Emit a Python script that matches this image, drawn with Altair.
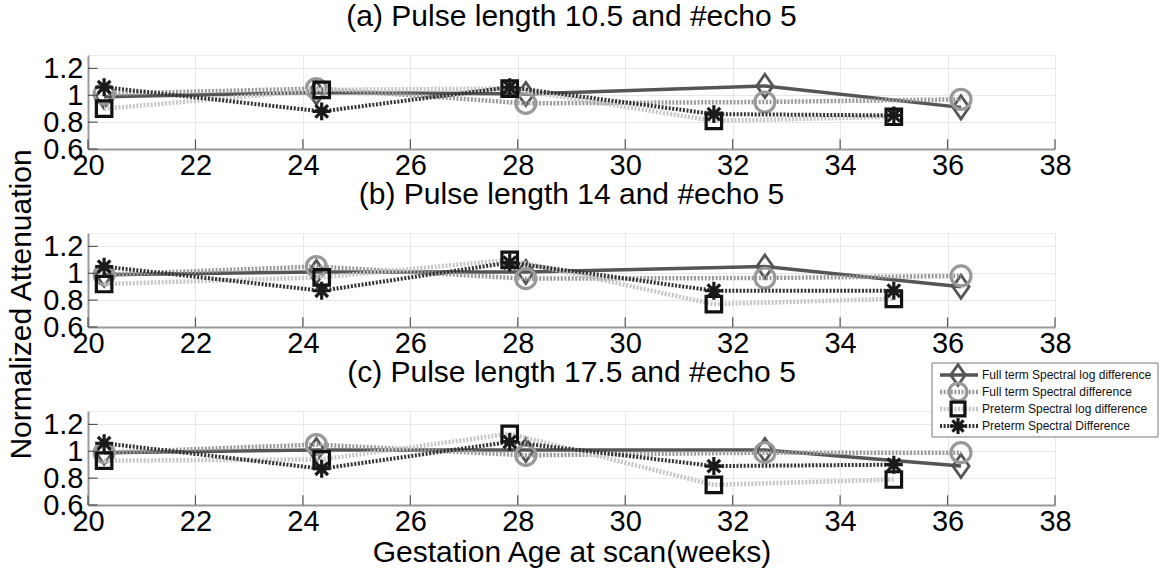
import altair as alt
import pandas as pd

# Gestation age (weeks) at which each cohort was scanned
weeks_full = [20.3, 24.25, 28.15, 32.6, 36.25]
weeks_pre = [20.3, 24.35, 27.85, 31.65, 35.0]

series_names = [
    "Full term Spectral log difference",
    "Full term Spectral difference",
    "Preterm Spectral log difference",
    "Preterm Spectral Difference",
]

# (a) Pulse length 10.5
ft_log_a = [0.99, 1.02, 1.01, 1.07, 0.91]
ft_diff_a = [1.01, 1.05, 0.94, 0.95, 0.97]
pt_log_a = [0.90, 1.04, 1.05, 0.81, 0.84]
pt_diff_a = [1.06, 0.88, 1.06, 0.86, 0.85]

# (b) Pulse length 14
ft_log_b = [0.99, 1.01, 1.01, 1.05, 0.90]
ft_diff_b = [0.99, 1.05, 0.96, 0.965, 0.98]
pt_log_b = [0.92, 0.97, 1.10, 0.77, 0.81]
pt_diff_b = [1.05, 0.87, 1.08, 0.87, 0.87]

# (c) Pulse length 17.5
ft_log_c = [0.99, 1.01, 1.01, 1.01, 0.89]
ft_diff_c = [0.99, 1.05, 0.97, 0.99, 0.99]
pt_log_c = [0.93, 0.94, 1.13, 0.75, 0.79]
pt_diff_c = [1.06, 0.87, 1.07, 0.89, 0.90]

panel_titles = [
    "(a) Pulse length 10.5 and #echo 5",
    "(b) Pulse length 14 and #echo 5",
    "(c) Pulse length 17.5 and #echo 5",
]
panel_values = [
    [ft_log_a, ft_diff_a, pt_log_a, pt_diff_a],
    [ft_log_b, ft_diff_b, pt_log_b, pt_diff_b],
    [ft_log_c, ft_diff_c, pt_log_c, pt_diff_c],
]

x_ticks = list(range(20, 39, 2))
y_ticks = [0.6, 0.8, 1.0, 1.2]

FONT = "Liberation Sans"
W, H = 967, 94
TICK_FS = 29
TITLE_FS = 30

DIAMOND = "M0,-1L0.7,0L0,1L-0.7,0Z"
ASTERISK = "M0,-1L0,1M-1,0L1,0M-0.7,-0.7L0.7,0.7M-0.7,0.7L0.7,-0.7"

styles = {
    series_names[0]: dict(line="#555555", dash=None, lw=3.5, shape=DIAMOND,
                          size=540, mark="#555555", msw=2.8),
    series_names[1]: dict(line="#9a9a9a", dash=[2, 1.6], lw=4.5, shape="circle",
                          size=400, mark="#999999", msw=3.2),
    series_names[2]: dict(line="#c6c6c6", dash=[2, 1.6], lw=4.5, shape="square",
                          size=240, mark="#111111", msw=3.2),
    series_names[3]: dict(line="#333333", dash=[2, 1.6], lw=4, shape=ASTERISK,
                          size=320, mark="#1a1a1a", msw=3.2),
}


def line_kwargs(st):
    kw = dict(color=st["line"], strokeWidth=st["lw"], strokeCap="butt")
    if st["dash"] is not None:
        kw["strokeDash"] = st["dash"]
    return kw


def point_kwargs(st):
    return dict(shape=st["shape"], size=st["size"], filled=False,
                color=st["mark"], strokeWidth=st["msw"], opacity=1)


def build_panel(idx):
    values = panel_values[idx]
    x_kw = dict(values=x_ticks, labelPadding=2, labelOverlap=False,
                labelFlush=False)
    if idx == 2:
        x_kw.update(title="Gestation Age at scan(weeks)", titlePadding=1)
    else:
        x_kw.update(title=None)
    y_kw = dict(values=y_ticks, format=".1~f", labelPadding=5,
                labelOverlap=False, labelFlush=False)
    if idx == 1:
        y_kw.update(title="Normalized Attenuation", titleY=71, titlePadding=6)
    else:
        y_kw.update(title=None)
    x_axis = alt.Axis(**x_kw)
    y_axis = alt.Axis(**y_kw)
    x_scale = alt.Scale(domain=[20, 38], nice=False)
    y_scale = alt.Scale(domain=[0.6, 1.3], nice=False)

    layers = []
    for k, name in enumerate(series_names):
        weeks = weeks_full if k < 2 else weeks_pre
        df = pd.DataFrame({"week": weeks, "value": values[k], "series": name})
        st = styles[name]
        enc = dict(
            x=alt.X("week:Q", scale=x_scale, axis=x_axis),
            y=alt.Y("value:Q", scale=y_scale, axis=y_axis),
        )
        layers.append(alt.Chart(df).mark_line(**line_kwargs(st)).encode(**enc))
        layers.append(alt.Chart(df).mark_point(**point_kwargs(st)).encode(**enc))

    # inward tick marks, MATLAB style (sharing the panel's axes)
    xt = pd.DataFrame({"t": x_ticks})
    layers.append(
        alt.Chart(xt).mark_rule(color="#555555", strokeWidth=1.2).encode(
            x=alt.X("t:Q", scale=x_scale, axis=x_axis),
            y=alt.YDatum(0.6, scale=y_scale, axis=y_axis),
            y2=alt.datum(0.672),
        )
    )
    yt = pd.DataFrame({"t": y_ticks})
    layers.append(
        alt.Chart(yt).mark_rule(color="#555555", strokeWidth=1.2).encode(
            y=alt.Y("t:Q", scale=y_scale, axis=y_axis),
            x=alt.XDatum(20, scale=x_scale, axis=x_axis),
            x2=alt.datum(20.18),
        )
    )

    # panel heading
    layers.append(
        alt.Chart(pd.DataFrame({"title": [panel_titles[idx]]})).mark_text(
            align="center", baseline="middle", font=FONT,
            fontSize=TITLE_FS, color="black",
        ).encode(x=alt.value(W / 2), y=alt.value(-38), text="title:N")
    )

    if idx == 2:
        # legend box, drawn in the upper-right corner of the last panel
        layers.append(
            alt.Chart(pd.DataFrame({"k": [0]})).mark_rect(
                fill="white", stroke="#777777", strokeWidth=1
            ).encode(
                x=alt.value(844), x2=alt.value(1070),
                y=alt.value(-48), y2=alt.value(26),
            )
        )
        for k, name in enumerate(series_names):
            st = styles[name]
            row_y = -36 + 17 * k
            one = pd.DataFrame({"label": [name]})
            layers.append(
                alt.Chart(one).mark_rule(**line_kwargs(st)).encode(
                    x=alt.value(852), x2=alt.value(890), y=alt.value(row_y)
                )
            )
            pk = point_kwargs(st)
            pk["size"] = st["size"] * 0.8
            layers.append(
                alt.Chart(one).mark_point(**pk).encode(
                    x=alt.value(870), y=alt.value(row_y)
                )
            )
            layers.append(
                alt.Chart(one).mark_text(
                    align="left", baseline="middle", font=FONT,
                    fontSize=12, color="#111111",
                ).encode(x=alt.value(894), y=alt.value(row_y), text="label:N")
            )

    return alt.layer(*layers).properties(width=W, height=H)


chart = (
    alt.vconcat(build_panel(0), build_panel(1), build_panel(2),
                spacing=84, bounds="flush")
    .properties(padding={"left": 6, "top": 1, "right": 0, "bottom": 0})
    .configure_view(stroke="#ececec", strokeWidth=1)
    .configure_axis(
        domainColor="#9a9a9a",
        domainWidth=2,
        gridColor="#e8e8e8",
        gridWidth=1,
        ticks=False,
        labelFont=FONT,
        labelFontSize=TICK_FS,
        labelColor="black",
        labelOverlap=False,
        labelFlush=False,
        titleFont=FONT,
        titleFontSize=TITLE_FS,
        titleFontWeight="normal",
        titleColor="black",
    )
)

chart.save("out.html", embed_options={"renderer": "svg", "actions": False})
